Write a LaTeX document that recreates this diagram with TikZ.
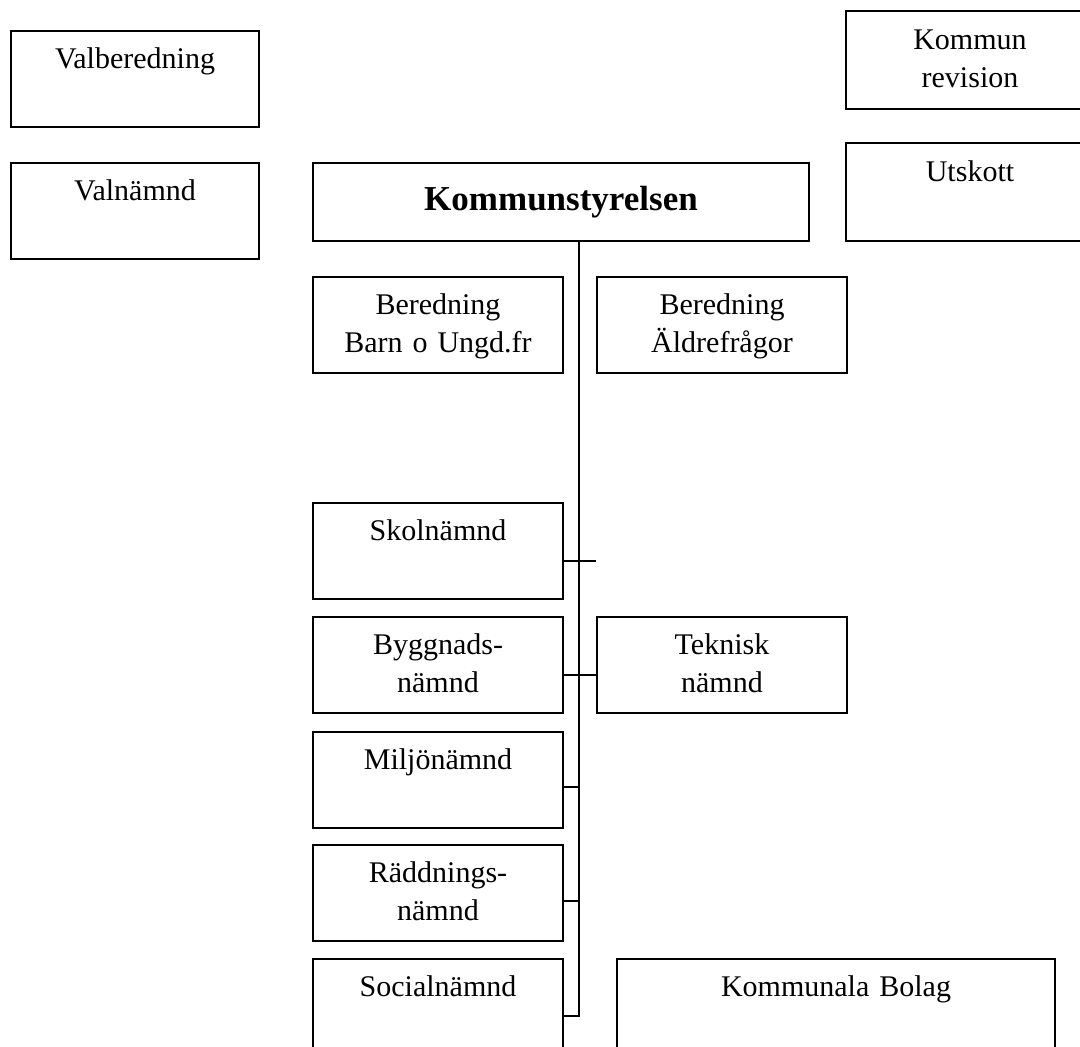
\documentclass[tikz,border=0pt]{standalone}
\usepackage{fontspec}
\setmainfont{Liberation Serif}
\usepackage{tikz}
\usetikzlibrary{calc}
\tikzset{orgbox/.style={draw, line width=2pt, anchor=north west, inner sep=0pt,
    text width=#1, align=center, text height=37pt, text depth=59pt,
    font=\fontsize{30}{38}\selectfont}}
\tikzset{conn/.style={line width=1.6pt}}

\begin{document}
\begin{tikzpicture}[x=1pt,y=-1pt]
  \useasboundingbox (0,0) rectangle (1080,1047);
  \clip (0,0) rectangle (1080,1047);
  \foreach \x/\y/\w/\h/\name/\lab in {
    10/30/248/96/valb/Valberedning,
    10/162/248/96/valn/Valnämnd,
    845/10/248/98/rev/{Kommun\\revision},
    845/142/248/98/utsk/Utskott,
    312/276/250/96/bbarn/{Beredning\\Barn o Ungd.fr},
    596/276/250/96/bald/{Beredning\\Äldrefrågor},
    312/502/250/96/skol/Skolnämnd,
    312/616/250/96/bygg/{Byggnads-\\nämnd},
    596/616/250/96/tekn/{Teknisk\\nämnd},
    312/731/250/96/milj/Miljönämnd,
    312/844/250/96/radd/{Räddnings-\\nämnd},
    312/958/250/96/soc/Socialnämnd,
    616/958/438/96/bolag/Kommunala Bolag%
  } {
    \node[orgbox=\w pt, minimum height=\h pt] (\name) at (\x, \y) {\lab};
  }
  \node[draw, line width=2pt, anchor=north west, inner sep=0pt,
    minimum width=496pt, minimum height=78pt,
    font=\fontsize{35}{40}\selectfont\bfseries] (ks) at (312, 162) {Kommunstyrelsen};

  \coordinate (spine) at ([xshift=18pt]ks.south);
  \draw[conn] (spine) |- ([yshift=-9pt]soc.east);
  \draw[conn] ([yshift=-10pt]skol.east) -- ([yshift=-10pt]skol.east -| tekn.west);
  \draw[conn] ([yshift=-10pt]bygg.east) -- ([yshift=-10pt]bygg.east -| tekn.west);
  \draw[conn] ([yshift=-7pt]milj.east) -- ([yshift=-7pt]milj.east -| spine);
  \draw[conn] ([yshift=-8pt]radd.east) -- ([yshift=-8pt]radd.east -| spine);
\end{tikzpicture}
\end{document}
